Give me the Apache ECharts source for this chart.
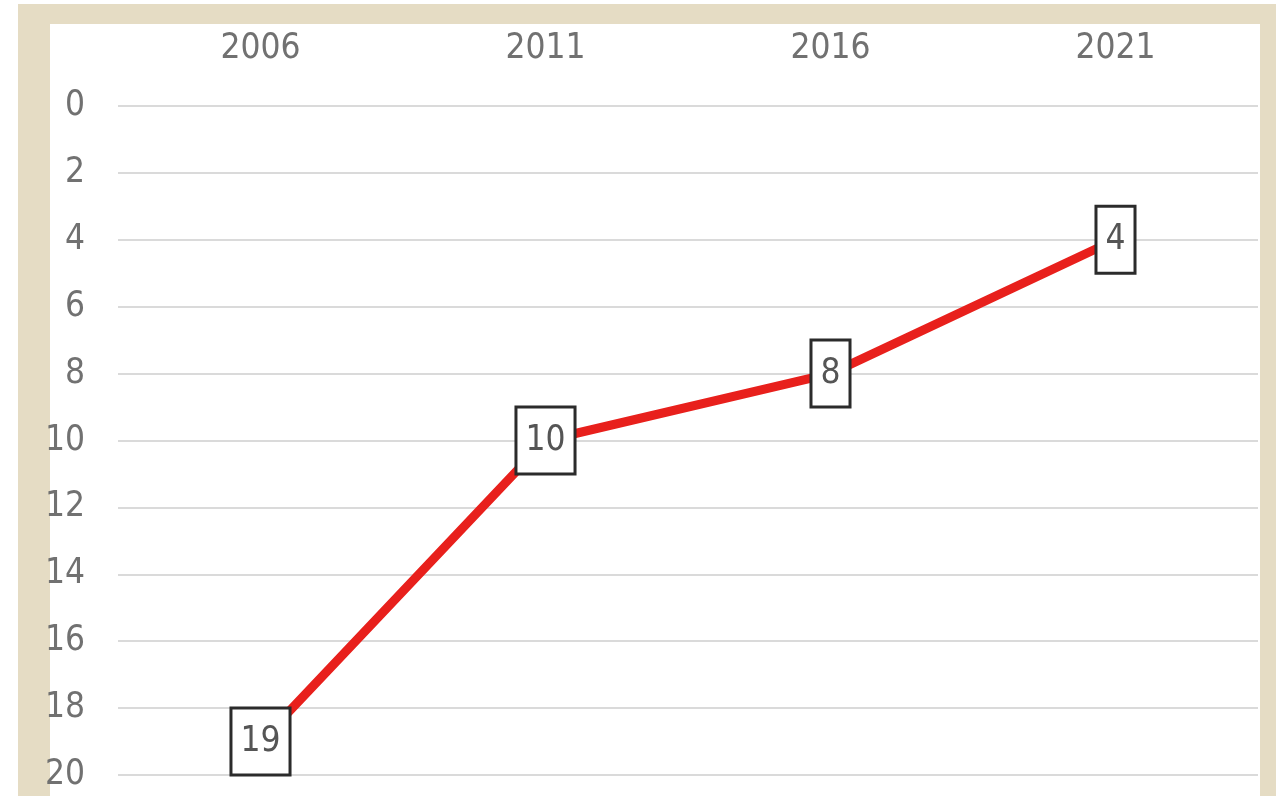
<!DOCTYPE html>
<html>
<head>
<meta charset="utf-8">
<script src="https://cdn.jsdelivr.net/npm/echarts@6/dist/echarts.min.js"></script>
<style>
  html, body { margin: 0; padding: 0; background: #fff; }
  #frame {
    position: absolute; left: 18px; top: 4px; width: 1210px; height: 792px;
    border-left: 32px solid #e5dcc4; border-top: 20px solid #e5dcc4; border-right: 16px solid #e5dcc4;
    background: #fff; box-sizing: content-box;
  }
  #chart { position: absolute; left: 0; top: 0; width: 1276px; height: 796px; }
</style>
</head>
<body>
<div id="frame"></div>
<div id="chart"></div>
<script>
// census years and the rank for each one
const years = ['2006', '2011', '2016', '2021'];
const ranks = [19, 10, 8, 4];

const font = "'DejaVu Sans Condensed', 'Liberation Sans', sans-serif";
const grey = '#717171';

let chart = echarts.init(document.getElementById('chart'));
chart.setOption({
  animation: false,
  grid: { left: 118, right: 18, top: 106, bottom: 21 },
  xAxis: {
    type: 'category',
    position: 'top',
    data: years,
    axisLine: { show: false },
    axisTick: { show: false },
    axisLabel: { color: grey, fontFamily: font, fontSize: 35, margin: 40 }
  },
  yAxis: {
    type: 'value',
    inverse: true,
    min: 0,
    max: 20,
    interval: 2,
    axisLine: { show: false },
    axisTick: { show: false },
    axisLabel: { color: grey, fontFamily: font, fontSize: 35, margin: 33 },
    splitLine: { lineStyle: { color: '#dadada', width: 2 } }
  },
  series: [{
    type: 'line',
    data: ranks,
    symbol: 'circle',
    symbolSize: 1,
    itemStyle: { color: 'rgba(0,0,0,0)' },
    lineStyle: { color: '#e8201c', width: 9 },
    label: {
      show: true,
      position: 'inside',
      color: '#555',
      fontFamily: font,
      fontSize: 35,
      lineHeight: 38,
      backgroundColor: '#fff',
      borderColor: '#2b2b2b',
      borderWidth: 3,
      padding: [13, 8]
    }
  }]
});
</script>
</body>
</html>
